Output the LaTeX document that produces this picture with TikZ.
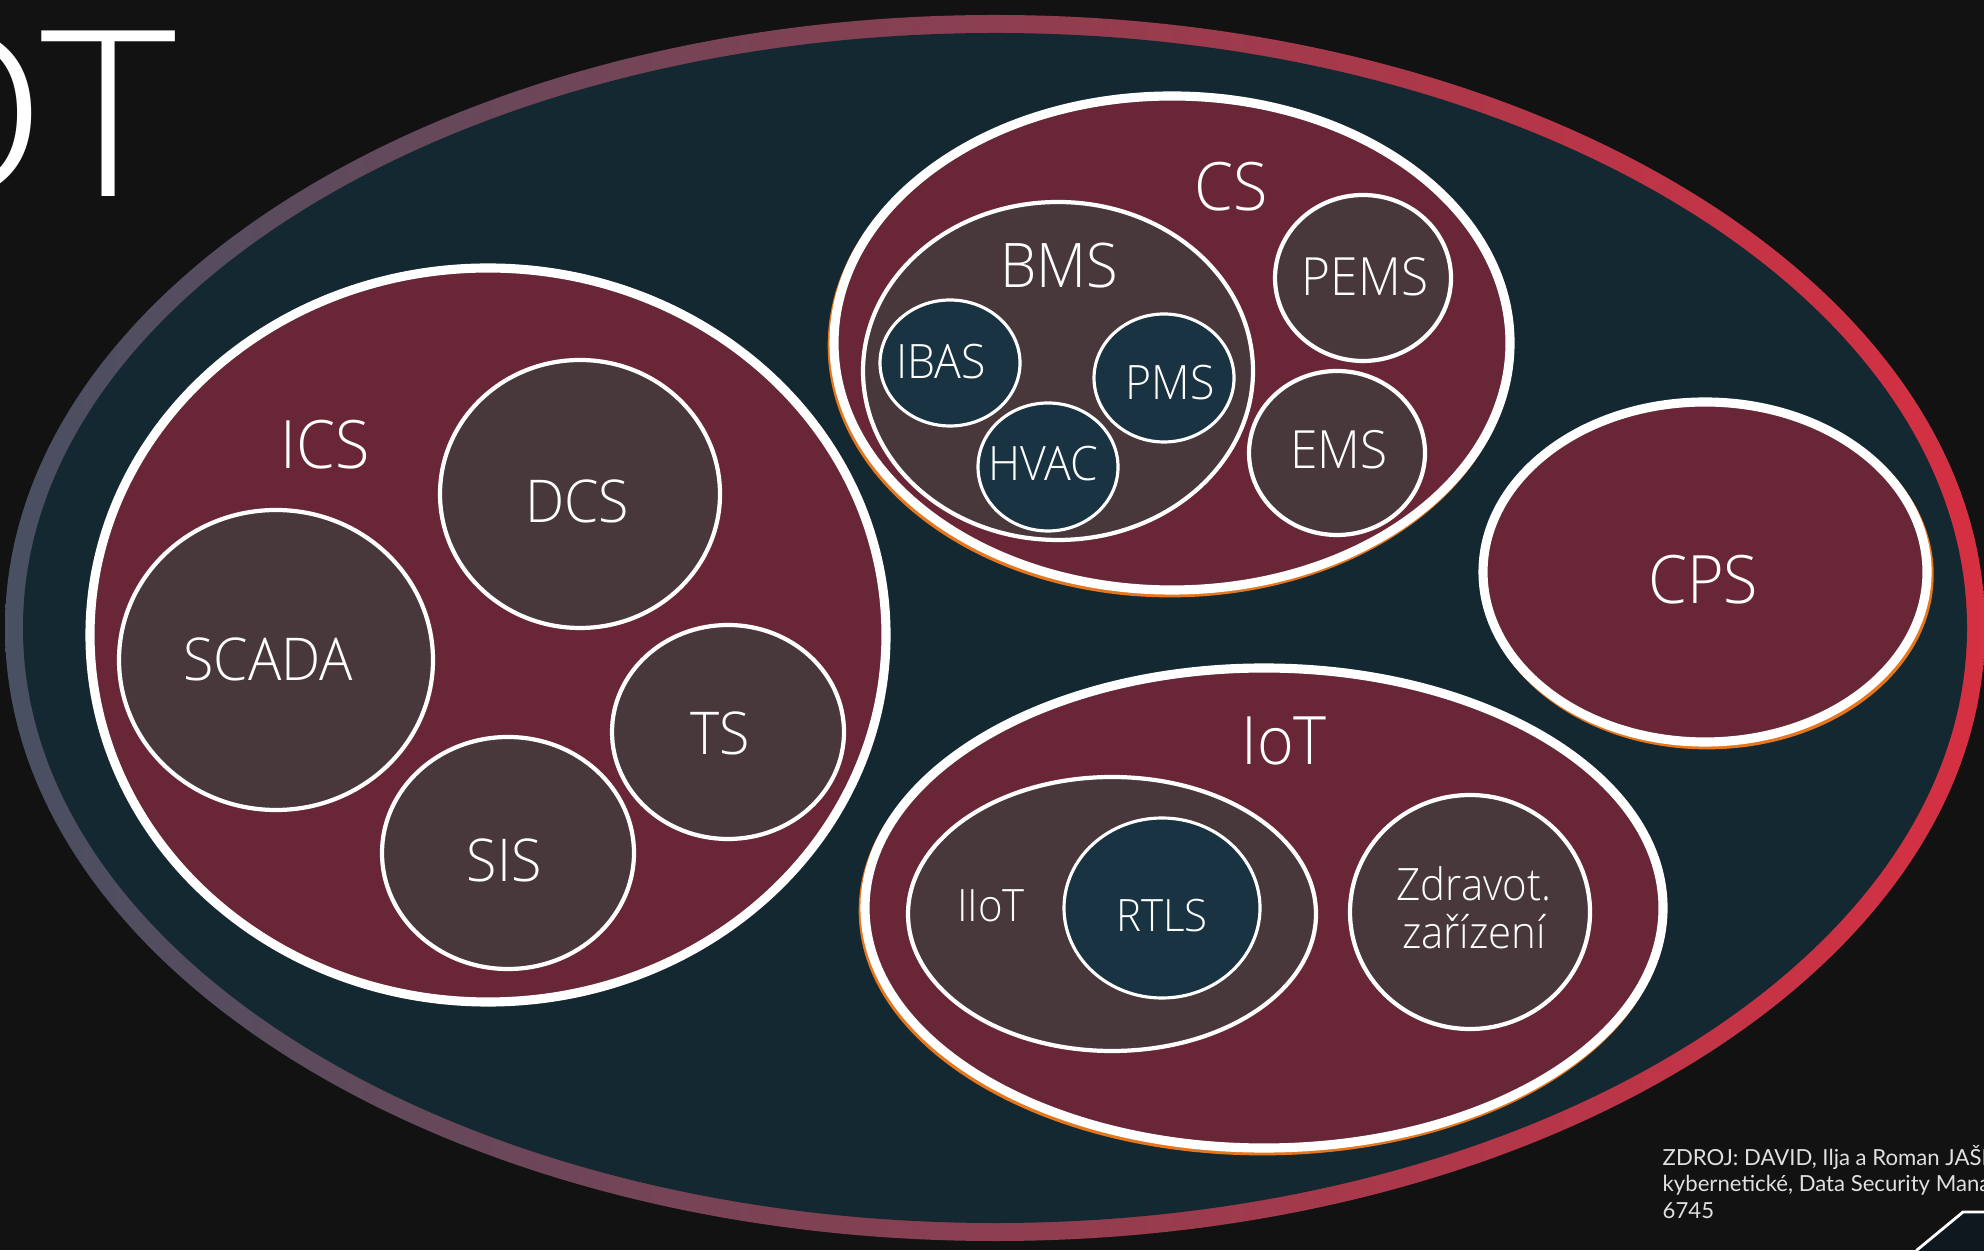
\documentclass[tikz,border=0pt]{standalone}
\usepackage{fontspec}
\setmainfont{Open Sans}[UprightFont={* Light}, FakeStretch=0.94]
\newfontfamily\titlefont{Open Sans}[UprightFont={* Light}, FakeStretch=1.12]
\newfontfamily\srcfont{Lato}
\usetikzlibrary{shapes.geometric,shadows}

\definecolor{bgblack}{RGB}{18,18,18}
\definecolor{ringteal}{RGB}{19,40,48}
\definecolor{bandleft}{RGB}{72,80,98}
\definecolor{bandmid}{RGB}{140,62,80}
\definecolor{bandright}{RGB}{214,48,66}
\definecolor{setred}{RGB}{105,38,54}
\definecolor{subgrey}{RGB}{72,56,60}
\definecolor{coreblue}{RGB}{25,51,66}
\definecolor{rimorange}{RGB}{230,118,30}
\definecolor{cornerdark}{RGB}{14,24,30}

\tikzset{
	venn/.style={ellipse, inner sep=0pt, draw=white},
	top set/.style={venn, fill=setred, line width=2.6pt},
	rim/.style={general shadow={shadow xshift=#1, shadow yshift=-0.8pt, draw=rimorange, line width=2.6pt}},
	rim/.default=-0.5pt,
	sub set/.style={venn, fill=subgrey, line width=1.2pt},
	core set/.style={venn, fill=coreblue, line width=0.9pt},
	setlabel/.style={text=white, inner sep=0pt},
	big font/.style={font=\fontsize{19}{19}\selectfont},
	bms font/.style={font=\fontsize{17.5}{17.5}\selectfont},
	mid font/.style={font=\fontsize{16.8}{16.8}\selectfont},
	ems font/.style={font=\fontsize{15}{15}\selectfont},
	small font/.style={font=\fontsize{13.5}{13.5}\selectfont},
	iot font/.style={font=\fontsize{12.7}{13.7}\selectfont},
}

\begin{document}
\begin{tikzpicture}
	\useasboundingbox (0,0) rectangle (19.84,12.5);
	\clip (0,0) rectangle (19.84,12.5);
	\fill[bgblack] (0,0) rectangle (19.84,12.5);
	\shade[left color=bandleft, right color=bandright, middle color=bandmid] (9.95,6.22) ellipse [x radius=9.90, y radius=6.13];
	\fill[ringteal] (9.95,6.22) ellipse [x radius=9.72, y radius=5.95];

	\node[setlabel, font=\titlefont\fontsize{66}{66}\selectfont, anchor=base east] (title) at (1.77,10.53) {OT};

	\node[top set, minimum width=7.96cm, minimum height=7.34cm] (ics) at (4.88,6.15) {};
	\node[setlabel, big font] (icslabel) at (3.25,8.05) {ICS};
	\node[sub set, minimum width=3.14cm, minimum height=3.00cm] (scada) at (2.76,5.90) {};
	\node[setlabel, mid font] (scadalabel) at (2.68,5.91) {SCADA};
	\node[sub set, minimum width=2.80cm, minimum height=2.68cm] (dcs) at (5.80,7.56) {};
	\node[setlabel, mid font] (dcslabel) at (5.77,7.49) {DCS};
	\node[sub set, minimum width=2.32cm, minimum height=2.14cm] (ts) at (7.28,5.18) {};
	\node[setlabel, mid font] (tslabel) at (7.20,5.17) {TS};
	\node[sub set, minimum width=2.52cm, minimum height=2.32cm] (sis) at (5.08,3.97) {};
	\node[setlabel, mid font] (sislabel) at (5.04,3.90) {SIS};

	\node[top set, rim, minimum width=6.76cm, minimum height=4.94cm] (cs) at (11.72,9.07) {};
	\node[setlabel, big font] (cslabel) at (12.31,10.63) {CS};
	\node[sub set, minimum width=3.90cm, minimum height=3.38cm] (bms) at (10.58,8.79) {};
	\node[setlabel, bms font] (bmslabel) at (10.59,9.84) {BMS};
	\node[core set, minimum width=1.40cm, minimum height=1.26cm] (ibas) at (9.50,8.87) {};
	\node[setlabel, small font] (ibaslabel) at (9.41,8.88) {IBAS};
	\node[core set, minimum width=1.40cm, minimum height=1.28cm] (pms) at (11.64,8.72) {};
	\node[setlabel, small font] (pmslabel) at (11.70,8.67) {PMS};
	\node[core set, minimum width=1.40cm, minimum height=1.28cm] (hvac) at (10.48,7.83) {};
	\node[setlabel, small font] (hvaclabel) at (10.43,7.86) {HVAC};
	\node[sub set, minimum width=1.76cm, minimum height=1.66cm] (pems) at (13.63,9.72) {};
	\node[setlabel, ems font] (pemslabel) at (13.65,9.73) {PEMS};
	\node[sub set, minimum width=1.76cm, minimum height=1.64cm] (ems) at (13.37,7.97) {};
	\node[setlabel, ems font] (emslabel) at (13.39,8.00) {EMS};

	\node[top set, rim=0.6pt, minimum width=4.44cm, minimum height=3.40cm] (cps) at (17.05,6.78) {};
	\node[setlabel, big font] (cpslabel) at (17.03,6.70) {CPS};

	\node[top set, rim, minimum width=7.98cm, minimum height=4.80cm] (iot) at (12.64,3.42) {};
	\node[setlabel, big font] (iotlabel) at (12.84,5.09) {IoT};
	\node[sub set, minimum width=4.08cm, minimum height=2.74cm] (iiot) at (11.12,3.36) {};
	\node[setlabel, iot font] (iiotlabel) at (9.91,3.44) {IIoT};
	\node[core set, minimum width=1.96cm, minimum height=1.80cm] (rtls) at (11.62,3.42) {};
	\node[setlabel, iot font] (rtlslabel) at (11.62,3.34) {RTLS};
	\node[sub set, minimum width=2.40cm, minimum height=2.34cm] (zdrav) at (14.70,3.38) {};
	\node[setlabel, iot font, align=center] (zdravlabel) at (14.74,3.42) {Zdravot.\\zařízení};

	\node[setlabel, anchor=base west, align=left, text=white!88!black, font=\srcfont\fontsize{6.3}{7.5}\selectfont] (source) at (16.62,0.32) {ZDROJ: DAVID, Ilja a Roman JAŠEK.\\kybernetické, Data Security Management\\6745};

	\draw[white, line width=0.8pt, fill=cornerdark] (19.17,-0.1) -- (19.17,0) -- (19.63,0.38) -- (19.95,0.38) -- (19.95,-0.1) -- cycle;
\end{tikzpicture}
\end{document}
